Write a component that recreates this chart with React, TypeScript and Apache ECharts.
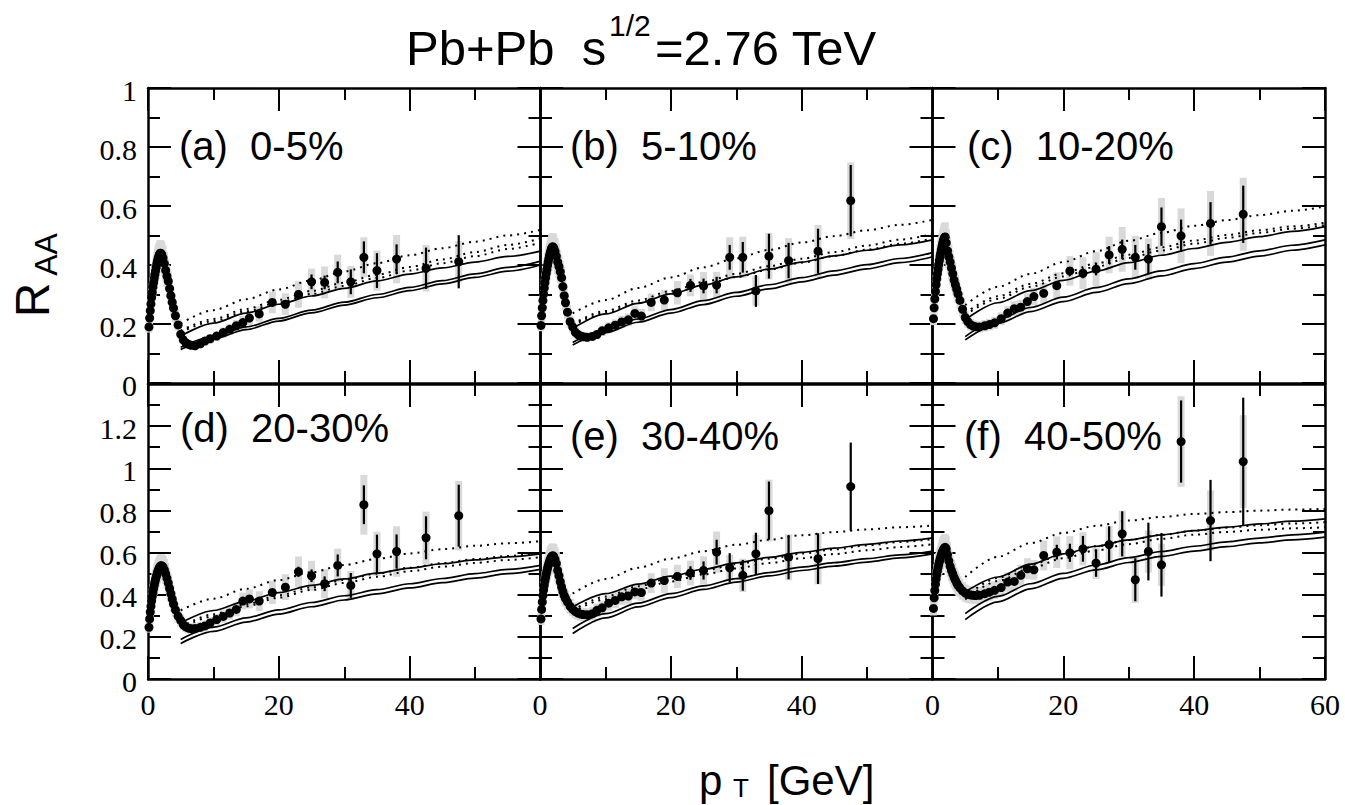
import React, { useEffect, useRef } from 'react';
import * as echarts from 'echarts';

// ---------- data ----------
const lowX = [0.15, 0.25, 0.35, 0.45, 0.55, 0.65, 0.75, 0.85, 0.95, 1.05, 1.15, 1.25, 1.35, 1.45, 1.55, 1.65, 1.75, 1.85, 1.95,
  2.1, 2.3, 2.5, 2.7, 2.9, 3.1, 3.3, 3.5, 3.7, 3.9,
  4.2, 4.6, 5.0, 5.4, 5.8, 6.2, 6.6, 7.2, 8.0, 8.7, 9.5, 10.5, 11.5, 12.5, 13.5];
const lowSysRel = 0.1;

const lowYA = [0.19, 0.22, 0.245, 0.268, 0.29, 0.308, 0.325, 0.34, 0.354, 0.368, 0.38, 0.392, 0.404, 0.414, 0.423, 0.43, 0.436, 0.44, 0.44,
  0.436, 0.424, 0.405, 0.382, 0.362, 0.345, 0.32, 0.296, 0.274, 0.254,
  0.228, 0.197, 0.165, 0.146, 0.136, 0.131, 0.128, 0.126, 0.133, 0.142, 0.15, 0.159, 0.171, 0.182, 0.194];
const lowYB = [0.195, 0.228, 0.255, 0.28, 0.302, 0.322, 0.34, 0.356, 0.371, 0.385, 0.398, 0.41, 0.421, 0.431, 0.44, 0.448, 0.455, 0.46, 0.462,
  0.458, 0.447, 0.43, 0.41, 0.395, 0.377, 0.357, 0.327, 0.296, 0.272,
  0.24, 0.208, 0.19, 0.172, 0.164, 0.159, 0.157, 0.155, 0.158, 0.164, 0.177, 0.187, 0.196, 0.207, 0.214];
const lowYC = [0.218, 0.255, 0.285, 0.31, 0.333, 0.353, 0.37, 0.386, 0.401, 0.415, 0.428, 0.44, 0.452, 0.463, 0.473, 0.482, 0.489, 0.494, 0.495,
  0.475, 0.448, 0.428, 0.41, 0.39, 0.37, 0.349, 0.333, 0.318, 0.302,
  0.28, 0.25, 0.222, 0.208, 0.198, 0.193, 0.191, 0.19, 0.194, 0.198, 0.204, 0.218, 0.237, 0.252, 0.257];
const lowYD = [0.245, 0.285, 0.318, 0.345, 0.37, 0.392, 0.41, 0.428, 0.444, 0.459, 0.472, 0.484, 0.495, 0.505, 0.514, 0.522, 0.529, 0.534, 0.537,
  0.538, 0.532, 0.518, 0.5, 0.478, 0.455, 0.43, 0.405, 0.38, 0.356,
  0.328, 0.298, 0.278, 0.258, 0.247, 0.241, 0.239, 0.24, 0.245, 0.252, 0.266, 0.282, 0.297, 0.313, 0.33];
const lowYE = [0.285, 0.33, 0.366, 0.396, 0.422, 0.445, 0.465, 0.482, 0.498, 0.512, 0.525, 0.537, 0.548, 0.557, 0.566, 0.573, 0.579, 0.583, 0.585,
  0.582, 0.568, 0.548, 0.515, 0.49, 0.462, 0.437, 0.415, 0.396, 0.382,
  0.366, 0.345, 0.331, 0.32, 0.313, 0.308, 0.306, 0.305, 0.31, 0.326, 0.338, 0.36, 0.373, 0.39, 0.394];
const lowYF = [0.335, 0.385, 0.42, 0.45, 0.474, 0.495, 0.513, 0.529, 0.543, 0.556, 0.568, 0.579, 0.589, 0.598, 0.606, 0.613, 0.619, 0.623, 0.625,
  0.617, 0.59, 0.56, 0.535, 0.515, 0.5, 0.482, 0.469, 0.456, 0.444,
  0.432, 0.418, 0.408, 0.402, 0.399, 0.397, 0.396, 0.397, 0.405, 0.412, 0.421, 0.434, 0.46, 0.463, 0.492];

const highX = [14.5, 15.5, 17, 19, 21, 23, 25, 27, 29, 31, 33, 35, 38, 42.5, 47.5];

const highYA = [0.205, 0.22, 0.234, 0.273, 0.267, 0.30, 0.343, 0.341, 0.375, 0.343, 0.426, 0.381, 0.42, 0.389, 0.411];
const statA = [0.005, 0.006, 0.007, 0.01, 0.01, 0.015, 0.025, 0.023, 0.037, 0.042, 0.054, 0.059, 0.05, 0.07, 0.09];
const sysA = [0.022, 0.024, 0.026, 0.037, 0.037, 0.045, 0.045, 0.054, 0.06, 0.054, 0.068, 0.068, 0.082, 0.079, 0.07];

const highYB = [0.236, 0.227, 0.273, 0.281, 0.306, 0.331, 0.329, 0.332, 0.426, 0.426, 0.312, 0.43, 0.415, 0.447, 0.618];
const statB = [0.005, 0.006, 0.008, 0.01, 0.012, 0.022, 0.025, 0.028, 0.042, 0.052, 0.054, 0.076, 0.06, 0.076, 0.121];
const sysB = [0.024, 0.024, 0.03, 0.034, 0.04, 0.037, 0.047, 0.045, 0.068, 0.07, 0.05, 0.079, 0.076, 0.089, 0.13];

const highYC = [0.276, 0.293, 0.304, 0.33, 0.38, 0.372, 0.386, 0.434, 0.453, 0.426, 0.42, 0.53, 0.499, 0.541, 0.572];
const statC = [0.005, 0.006, 0.007, 0.008, 0.012, 0.017, 0.021, 0.03, 0.033, 0.042, 0.051, 0.065, 0.055, 0.072, 0.097];
const sysC = [0.028, 0.03, 0.035, 0.045, 0.05, 0.054, 0.059, 0.062, 0.076, 0.073, 0.07, 0.097, 0.093, 0.11, 0.124];

const highYD = [0.37, 0.38, 0.37, 0.411, 0.436, 0.509, 0.49, 0.452, 0.539, 0.444, 0.827, 0.594, 0.605, 0.67, 0.775];
const statD = [0.008, 0.009, 0.01, 0.012, 0.015, 0.024, 0.03, 0.035, 0.052, 0.059, 0.092, 0.091, 0.081, 0.102, 0.147];
const sysD = [0.04, 0.045, 0.047, 0.055, 0.061, 0.072, 0.071, 0.069, 0.08, 0.069, 0.142, 0.105, 0.12, 0.124, 0.165];

const highYE = [0.413, 0.41, 0.455, 0.467, 0.487, 0.503, 0.515, 0.602, 0.528, 0.492, 0.594, 0.799, 0.578, 0.571, 0.913];
const statE = [0.008, 0.009, 0.01, 0.015, 0.02, 0.032, 0.043, 0.059, 0.069, 0.073, 0.1, 0.138, 0.105, 0.12, 0.209];
const sysE = [0.035, 0.04, 0.047, 0.059, 0.055, 0.059, 0.067, 0.098, 0.06, 0.079, 0.09, 0.147, 0.109, 0.122, 0];

const highYF = [0.523, 0.518, 0.586, 0.602, 0.599, 0.618, 0.55, 0.638, 0.689, 0.471, 0.605, 0.542, 1.127, 0.752, 1.032];
const statF = [0.01, 0.01, 0.012, 0.035, 0.043, 0.061, 0.065, 0.087, 0.107, 0.102, 0.137, 0.151, 0.195, 0.193, 0.303];
const sysF = [0.05, 0.047, 0.071, 0.075, 0.079, 0.079, 0.075, 0.087, 0.11, 0.11, 0.1, 0.1, 0.215, 0.143, 0.22];

const thX = [5, 10, 15, 20, 25, 30, 35, 40, 45, 50, 55, 60];

const solidA = [
  [0.159, 0.203, 0.237, 0.267, 0.295, 0.321, 0.346, 0.369, 0.39, 0.41, 0.429, 0.447],
  [0.121, 0.157, 0.19, 0.219, 0.247, 0.274, 0.3, 0.324, 0.347, 0.37, 0.392, 0.413],
  [0.114, 0.149, 0.181, 0.21, 0.238, 0.264, 0.289, 0.313, 0.336, 0.358, 0.379, 0.40]];
const dottedA = [
  [0.202, 0.247, 0.284, 0.317, 0.348, 0.378, 0.406, 0.433, 0.457, 0.479, 0.5, 0.519],
  [0.177, 0.217, 0.251, 0.282, 0.312, 0.34, 0.367, 0.393, 0.419, 0.444, 0.468, 0.49],
  [0.172, 0.21, 0.243, 0.273, 0.302, 0.329, 0.356, 0.381, 0.406, 0.43, 0.454, 0.476]];
const solidB = [
  [0.185, 0.234, 0.27, 0.302, 0.332, 0.36, 0.386, 0.41, 0.431, 0.45, 0.468, 0.485],
  [0.137, 0.181, 0.217, 0.249, 0.279, 0.307, 0.333, 0.357, 0.38, 0.401, 0.422, 0.442],
  [0.129, 0.171, 0.206, 0.237, 0.266, 0.294, 0.319, 0.343, 0.366, 0.387, 0.408, 0.428]];
const dottedB = [
  [0.236, 0.281, 0.322, 0.358, 0.392, 0.423, 0.451, 0.476, 0.498, 0.518, 0.536, 0.553],
  [0.2, 0.244, 0.28, 0.312, 0.342, 0.37, 0.396, 0.421, 0.444, 0.466, 0.486, 0.505],
  [0.195, 0.237, 0.272, 0.303, 0.332, 0.359, 0.384, 0.408, 0.431, 0.452, 0.472, 0.49]];
const solidC = [
  [0.214, 0.272, 0.313, 0.348, 0.379, 0.408, 0.433, 0.456, 0.477, 0.496, 0.514, 0.53],
  [0.157, 0.215, 0.256, 0.291, 0.323, 0.353, 0.38, 0.405, 0.427, 0.448, 0.467, 0.485],
  [0.146, 0.202, 0.242, 0.276, 0.307, 0.337, 0.363, 0.388, 0.41, 0.43, 0.45, 0.468]];
const dottedC = [
  [0.264, 0.326, 0.37, 0.41, 0.447, 0.482, 0.509, 0.533, 0.552, 0.569, 0.584, 0.598],
  [0.237, 0.294, 0.336, 0.372, 0.405, 0.435, 0.46, 0.483, 0.502, 0.518, 0.531, 0.543],
  [0.23, 0.285, 0.326, 0.361, 0.394, 0.424, 0.449, 0.472, 0.492, 0.509, 0.523, 0.535]];
const solidD = [
  [0.266, 0.325, 0.37, 0.41, 0.444, 0.475, 0.502, 0.526, 0.547, 0.565, 0.58, 0.594],
  [0.188, 0.246, 0.29, 0.328, 0.363, 0.395, 0.424, 0.452, 0.477, 0.5, 0.52, 0.539],
  [0.169, 0.226, 0.27, 0.308, 0.343, 0.375, 0.404, 0.432, 0.457, 0.479, 0.5, 0.52]];
const dottedD = [
  [0.326, 0.381, 0.428, 0.47, 0.507, 0.541, 0.57, 0.596, 0.616, 0.632, 0.644, 0.654],
  [0.247, 0.307, 0.355, 0.397, 0.435, 0.47, 0.5, 0.528, 0.55, 0.569, 0.584, 0.597],
  [0.24, 0.298, 0.345, 0.386, 0.423, 0.456, 0.485, 0.512, 0.533, 0.551, 0.565, 0.578]];
const solidE = [
  [0.342, 0.405, 0.45, 0.488, 0.521, 0.551, 0.577, 0.601, 0.621, 0.639, 0.655, 0.67],
  [0.24, 0.31, 0.36, 0.405, 0.442, 0.476, 0.505, 0.531, 0.552, 0.571, 0.589, 0.607],
  [0.216, 0.29, 0.342, 0.386, 0.425, 0.46, 0.489, 0.515, 0.536, 0.555, 0.575, 0.594]];
const dottedE = [
  [0.405, 0.474, 0.528, 0.571, 0.606, 0.637, 0.661, 0.682, 0.697, 0.71, 0.72, 0.728],
  [0.326, 0.391, 0.44, 0.48, 0.514, 0.545, 0.571, 0.595, 0.615, 0.634, 0.65, 0.664],
  [0.318, 0.379, 0.425, 0.463, 0.496, 0.525, 0.55, 0.573, 0.593, 0.611, 0.626, 0.64]];
const solidF = [
  [0.413, 0.484, 0.545, 0.594, 0.63, 0.66, 0.684, 0.704, 0.721, 0.736, 0.749, 0.76],
  [0.31, 0.392, 0.452, 0.501, 0.541, 0.576, 0.605, 0.63, 0.651, 0.669, 0.684, 0.697],
  [0.282, 0.366, 0.428, 0.478, 0.518, 0.553, 0.582, 0.607, 0.628, 0.646, 0.66, 0.673]];
const dottedF = [
  [0.484, 0.58, 0.645, 0.693, 0.727, 0.752, 0.769, 0.783, 0.792, 0.799, 0.804, 0.807],
  [0.39, 0.48, 0.543, 0.592, 0.63, 0.66, 0.684, 0.704, 0.718, 0.73, 0.738, 0.744],
  [0.378, 0.465, 0.526, 0.573, 0.61, 0.64, 0.665, 0.685, 0.698, 0.708, 0.715, 0.72]];

const panelLabels = ['(a)\u00a0 0-5%', '(b)\u00a0 5-10%', '(c)\u00a0 10-20%', '(d)\u00a0 20-30%', '(e)\u00a0 30-40%', '(f)\u00a0 40-50%'];
const yMaxRows = [1, 1.4];
const xTickVals = [0, 10, 20, 30, 40, 50, 60];
const xLabelVals = [[0, 20, 40], [0, 20, 40], [0, 20, 40, 60]];
const yLabelValsRows = [
  [0, 0.2, 0.4, 0.6, 0.8, 1],
  [0, 0.2, 0.4, 0.6, 0.8, 1, 1.2],
];

const panels = [
  { low: lowYA, high: highYA, stat: statA, sys: sysA, solid: solidA, dotted: dottedA },
  { low: lowYB, high: highYB, stat: statB, sys: sysB, solid: solidB, dotted: dottedB },
  { low: lowYC, high: highYC, stat: statC, sys: sysC, solid: solidC, dotted: dottedC },
  { low: lowYD, high: highYD, stat: statD, sys: sysD, solid: solidD, dotted: dottedD },
  { low: lowYE, high: highYE, stat: statE, sys: sysE, solid: solidE, dotted: dottedE },
  { low: lowYF, high: highYF, stat: statF, sys: sysF, solid: solidF, dotted: dottedF },
];

// ---------- layout ----------
const colLeft = [148, 540, 932.5];
const rowTop = [88, 384];
const GW = 392.5;
const GH = 295;
const TICK_MAJOR = 23;
const TICK_MINOR = 12;
const labelPos = [[179, 146], [570, 146], [967, 146], [180, 428], [570, 436], [964, 436]];

const SANS = 'Liberation Sans';
const SERIF = 'Liberation Serif';

function buildOption() {
  const grid: any[] = [];
  const xAxis: any[] = [];
  const yAxis: any[] = [];
  const series: any[] = [];
  const graphic: any[] = [];

  panels.forEach((p, i) => {
    const col = i % 3;
    const row = Math.floor(i / 3);
    const yMax = yMaxRows[row];
    const xMax = xTickVals[xTickVals.length - 1];
    grid.push({ left: colLeft[col], top: rowTop[row], width: GW, height: GH, show: false, containLabel: false });
    const xb = xAxis.length;
    ['bottom', 'top'].forEach((pos) => {
      xAxis.push({
        type: 'value', gridIndex: i, position: pos, min: 0, max: xMax, interval: 20,
        axisLine: { show: true, onZero: false, lineStyle: { color: '#000', width: 2.5 } },
        axisTick: { show: true, inside: true, length: TICK_MAJOR, lineStyle: { color: '#000', width: 2 } },
        minorTick: { show: true, splitNumber: 2, length: TICK_MINOR, lineStyle: { color: '#000', width: 2 } },
        splitLine: { show: false }, axisLabel: { show: false },
      });
    });
    const yl = yAxis.length;
    ['left', 'right'].forEach((pos) => {
      yAxis.push({
        type: 'value', gridIndex: i, position: pos, min: 0, max: yMax, interval: 0.2,
        axisLine: { show: true, onZero: false, lineStyle: { color: '#000', width: 2.5 } },
        axisTick: { show: true, inside: true, length: TICK_MAJOR, lineStyle: { color: '#000', width: 2 } },
        minorTick: { show: true, splitNumber: 2, length: TICK_MINOR, lineStyle: { color: '#000', width: 2 } },
        splitLine: { show: false }, axisLabel: { show: false },
      });
    });

    const sysData: number[][] = [];
    const statData: number[][] = [];
    const pts: number[][] = [];
    lowX.forEach((x, k) => {
      sysData.push([x, p.low[k], p.low[k] * lowSysRel]);
      pts.push([x, p.low[k]]);
    });
    highX.forEach((x, k) => {
      sysData.push([x, p.high[k], p.sys[k]]);
      statData.push([x, p.high[k], p.stat[k]]);
      pts.push([x, p.high[k]]);
    });

    series.push({
      type: 'custom', xAxisIndex: xb, yAxisIndex: yl, z: 1, silent: true, data: sysData,
      renderItem: (params: any, api: any) => {
        const x = api.value(0), y = api.value(1), s = api.value(2);
        if (!s) return null;
        const a = api.coord([x, y + s]);
        const b = api.coord([x, y - s]);
        return { type: 'rect', shape: { x: a[0] - 3.5, y: a[1], width: 7, height: b[1] - a[1] }, style: { fill: '#d9d9d9' } };
      },
    });
    p.solid.forEach((arr) => {
      series.push({
        type: 'line', xAxisIndex: xb, yAxisIndex: yl, z: 2, silent: true,
        data: thX.map((x, k) => [x, arr[k]]), smooth: 0.3, smoothMonotone: 'x',
        showSymbol: false, symbol: 'none', lineStyle: { color: '#000', width: 1.7 },
      });
    });
    p.dotted.forEach((arr) => {
      series.push({
        type: 'line', xAxisIndex: xb, yAxisIndex: yl, z: 2, silent: true,
        data: thX.map((x, k) => [x, arr[k]]), smooth: 0.3, smoothMonotone: 'x',
        showSymbol: false, symbol: 'none', lineStyle: { color: '#000', width: 2, type: [2, 5] },
      });
    });
    series.push({
      type: 'custom', xAxisIndex: xb, yAxisIndex: yl, z: 3, silent: true, data: statData,
      renderItem: (params: any, api: any) => {
        const x = api.value(0), y = api.value(1), e = api.value(2);
        const a = api.coord([x, y + e]);
        const b = api.coord([x, y - e]);
        return { type: 'rect', shape: { x: a[0] - 1.1, y: a[1], width: 2.2, height: b[1] - a[1] }, style: { fill: '#000' } };
      },
    });
    series.push({
      type: 'scatter', xAxisIndex: xb, yAxisIndex: yl, z: 4, silent: true, data: pts,
      symbol: 'circle', symbolSize: 9, itemStyle: { color: '#000', opacity: 1 },
    });

    // tick labels
    const px = (x: number) => colLeft[col] + (x / xMax) * GW;
    const py = (y: number) => rowTop[row] + (1 - y / yMax) * GH;
    if (row === 1) {
      xLabelVals[col].forEach((v) => {
        graphic.push({ type: 'text', x: px(v), y: py(0) + 25, silent: true, z: 20,
          style: { text: String(v), fontSize: 30, fontFamily: SERIF, fill: '#000', align: 'center', verticalAlign: 'middle' } });
      });
    }
    if (col === 0) {
      yLabelValsRows[row].forEach((v) => {
        graphic.push({ type: 'text', x: px(0) - 11, y: py(v) + 2, silent: true, z: 20,
          style: { text: String(v), fontSize: 30, fontFamily: SERIF, fill: '#000', align: 'right', verticalAlign: 'middle' } });
      });
    }
    graphic.push({ type: 'text', x: labelPos[i][0], y: labelPos[i][1], silent: true, z: 20,
      style: { text: panelLabels[i], fontSize: 40, fontFamily: SANS, fill: '#000', align: 'left', verticalAlign: 'middle' } });
  });

  // title
  graphic.push({ type: 'text', x: 406, y: 48, silent: true, style: { text: 'Pb+Pb\u00a0 s', fontSize: 49, fontFamily: SANS, fill: '#000', align: 'left', verticalAlign: 'middle' } });
  graphic.push({ type: 'text', x: 609, y: 25, silent: true, style: { text: '1/2', fontSize: 30, fontFamily: SANS, fill: '#000', align: 'left', verticalAlign: 'middle' } });
  graphic.push({ type: 'text', x: 655, y: 48, silent: true, style: { text: '=2.76 TeV', fontSize: 49, fontFamily: SANS, fill: '#000', align: 'left', verticalAlign: 'middle' } });
  // y axis title
  graphic.push({ type: 'text', x: 32.5, y: 300, rotation: Math.PI / 2, silent: true, style: { text: 'R', fontSize: 48, fontFamily: SANS, fill: '#000', align: 'center', verticalAlign: 'middle' } });
  graphic.push({ type: 'text', x: 46, y: 254.5, rotation: Math.PI / 2, silent: true, style: { text: 'AA', fontSize: 32, fontFamily: SANS, fill: '#000', align: 'center', verticalAlign: 'middle' } });
  // x axis title
  graphic.push({ type: 'text', x: 699, y: 780, silent: true, style: { text: 'p', fontSize: 42, fontFamily: SANS, fill: '#000', align: 'left', verticalAlign: 'middle' } });
  graphic.push({ type: 'text', x: 733, y: 788, silent: true, style: { text: 'T', fontSize: 26, fontFamily: SANS, fill: '#000', align: 'left', verticalAlign: 'middle' } });
  graphic.push({ type: 'text', x: 767, y: 780, silent: true, style: { text: '[GeV]', fontSize: 42, fontFamily: SANS, fill: '#000', align: 'left', verticalAlign: 'middle' } });

  return { animation: false, backgroundColor: '#fff', grid, xAxis, yAxis, series, graphic };
}

export default function App() {
  const ref = useRef<HTMLDivElement>(null);
  useEffect(() => {
    if (!ref.current) return;
    const chart = echarts.init(ref.current, null, { renderer: 'svg' });
    chart.setOption(buildOption() as any);
    return () => chart.dispose();
  }, []);
  return <div ref={ref} style={{ position: 'fixed', left: 0, top: 0, width: 1345, height: 805, background: '#fff' }} />;
}
